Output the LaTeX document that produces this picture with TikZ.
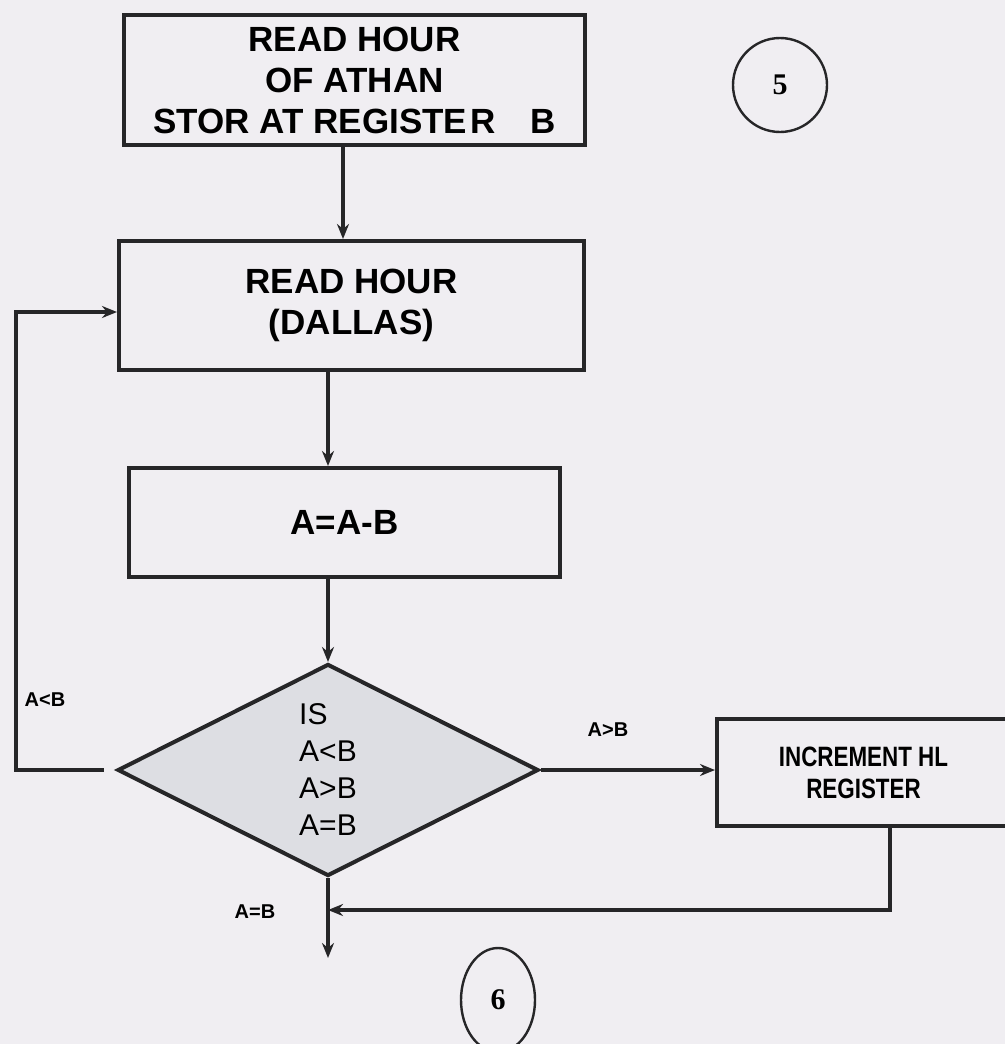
\documentclass[tikz,border=0pt]{standalone}
\usepackage{fontspec}
\setmainfont{Liberation Sans}
\newfontfamily\numfont{Liberation Serif}
\newfontfamily\narrowfont[FakeStretch=0.8]{Liberation Sans}
\usetikzlibrary{shapes.geometric,arrows.meta}
\definecolor{FCPaper}{RGB}{240,238,242}
\definecolor{FCInk}{RGB}{38,38,40}
\definecolor{FCDecision}{RGB}{221,222,227}

\begin{document}
\begin{tikzpicture}[x=0.5pt,y=-0.5pt,
  procbox/.style={draw=FCInk,line width=2pt,rectangle,inner sep=0pt,align=center,
    font=\bfseries\fontsize{17.5pt}{20.5pt}\selectfont},
  decision/.style={draw=FCInk,line width=2pt,fill=FCDecision,diamond,inner sep=0pt,
    minimum width=210.5pt,minimum height=106pt,align=left,
    font=\fontsize{15pt}{18.5pt}\selectfont},
  marker/.style={draw=FCInk,line width=1.2pt,inner sep=0pt,
    font=\numfont\bfseries\fontsize{15pt}{15pt}\selectfont},
  edgelbl/.style={inner sep=1pt,font=\bfseries\fontsize{10pt}{10pt}\selectfont},
  flow/.style={draw=FCInk,line width=1.8pt,-{Stealth[length=7.5pt,width=6pt]}}]
\path[use as bounding box,fill=FCPaper] (0,0) rectangle (1005,1044);
% steps
\node[procbox,minimum width=230.5pt,minimum height=65pt] (athan) at (354.5,80)
  {READ HOUR\\OF ATHAN\\STOR AT REGISTE\kern1.5pt R\quad B};
\node[procbox,minimum width=232.5pt,minimum height=64.5pt] (dallas) at (351.5,305.5)
  {READ HOUR\\(DALLAS)};
\node[procbox,minimum width=215.5pt,minimum height=54.5pt] (sub) at (344.5,522.5) {A=A-B};
\node[decision] (cmp) at (328,770) {IS\\A<B\\A>B\\A=B};
\node[procbox,font=\narrowfont\bfseries\fontsize{14pt}{16pt}\selectfont,
  minimum width=146.5pt,minimum height=53.5pt] (inchl) at (863.5,772.5) {INCREMENT HL\\REGISTER};
% page connectors
\node[marker,circle,minimum size=47pt] (pg5) at (780,85) {5};
\node[marker,ellipse,minimum width=37pt,minimum height=52pt] (pg6) at (498,1000) {6};
% bends
\coordinate (col1) at (343,0);
\coordinate (col2) at (328,0);
\coordinate (drop) at (890,0);
\coordinate (back) at (16,312);
\coordinate (merge) at (cmp.south |- 0,910);
\coordinate (exit) at (cmp.south |- 0,958);
\draw[flow] (athan.south -| col1) -- (dallas.north -| col1);
\draw[flow] (dallas.south -| col2) -- (sub.north -| col2);
\draw[flow] (sub.south -| cmp.north) -- (cmp.north);
\draw[flow] (cmp.east) -- (cmp.east -| inchl.west);
\draw[flow] (inchl.south -| drop) |- (merge);
\draw[flow] (cmp.south) -- (exit);
\draw[flow,shorten <=6pt] (cmp.west) -| (back) -- (back -| dallas.west);
% branch labels
\node[edgelbl] (lless) at (45,700) {A<B};
\node[edgelbl] (lmore) at (608,730) {A>B};
\node[edgelbl] (leq) at (255,912) {A=B};
\end{tikzpicture}
\end{document}
